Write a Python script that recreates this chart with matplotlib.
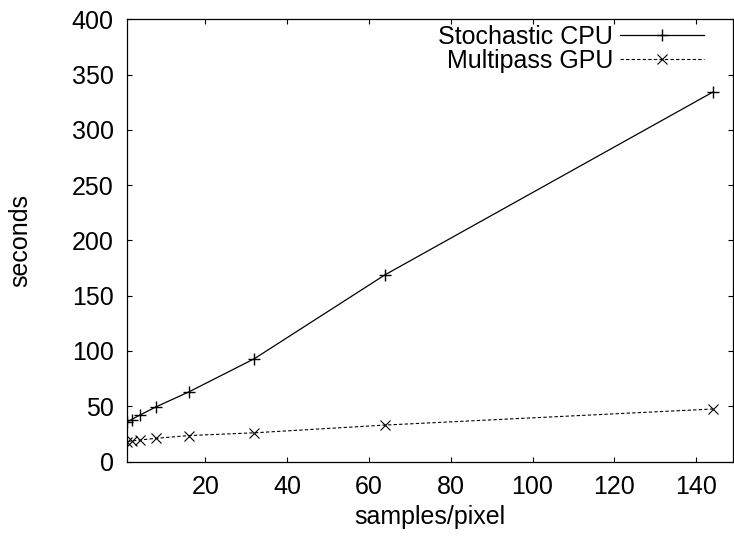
import matplotlib
matplotlib.use('Agg')
import matplotlib.pyplot as plt

plt.rcParams['font.family'] = ['Liberation Sans', 'DejaVu Sans']

# samples per pixel
samples = [1, 2, 4, 8, 16, 32, 64, 144]
# run times in seconds
cpu_seconds = [36, 38, 42, 49.5, 63, 93, 169, 334]
gpu_seconds = [18, 18.5, 19.5, 21, 23.5, 26, 33, 47.5]

fig = plt.figure(figsize=(7.34, 5.43), dpi=100)
ax = fig.add_axes([0.1737, 0.150, 0.8249, 0.8145])

ax.plot(samples, cpu_seconds, color='black', lw=0.9, marker='+',
        markersize=8, markeredgewidth=1.0, label='Stochastic CPU')
ax.plot(samples, gpu_seconds, color='black', lw=0.8, dashes=(3, 2),
        marker='x', markersize=7, markeredgewidth=0.8, label='Multipass GPU')

ax.set_xlim(1, 149)
ax.set_ylim(0, 400)
ax.set_xticks(range(20, 141, 20))
ax.set_yticks(range(0, 401, 50))
ax.tick_params(direction='in', length=3.5, width=0.8, top=True, right=True,
               labelsize=18, pad=10)
for s in ax.spines.values():
    s.set_linewidth(0.9)

ax.set_xlabel('samples/pixel', fontsize=18, labelpad=4)
ax.set_ylabel('seconds', fontsize=18, labelpad=28)

ax.legend(loc='upper right', frameon=False, markerfirst=False,
          fontsize=18, handlelength=3.35, handletextpad=0.3,
          labelspacing=0.0, borderaxespad=0.0, bbox_to_anchor=(0.969, 1.01))

fig.savefig('out.png', dpi=100)
